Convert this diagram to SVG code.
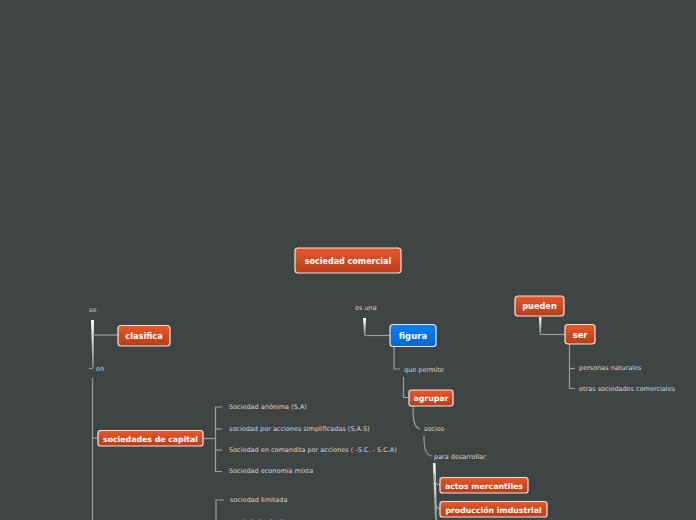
<svg xmlns="http://www.w3.org/2000/svg" width="696" height="520" viewBox="0 0 696 520">
<defs>
<linearGradient id="og" x1="0" y1="0" x2="0" y2="1"><stop offset="0" stop-color="#e8582a"/><stop offset="1" stop-color="#b53d1a"/></linearGradient>
<linearGradient id="bg" x1="0" y1="0" x2="0" y2="1"><stop offset="0" stop-color="#0f7ff0"/><stop offset="1" stop-color="#0066d0"/></linearGradient>
<linearGradient id="wv" x1="0" y1="0" x2="0" y2="1"><stop offset="0" stop-color="#ffffff"/><stop offset="1" stop-color="#8a8e8e"/></linearGradient>
<style>
.n rect{stroke:#f2e6e0;stroke-width:1.2}
.o{fill:url(#og)}
.b{fill:url(#bg)}
.nt{font-family:"DejaVu Sans",Verdana,sans-serif;font-weight:bold;fill:#ffffff;text-anchor:middle}
.t{font-family:"DejaVu Sans",Verdana,sans-serif;font-size:6.5px;fill:#d4d6d6}
.c{fill:none;stroke:#9a9e9e;stroke-width:1.2}
.w{fill:url(#wv)}
</style>
</defs>
<rect width="696" height="520" fill="#3f4444"/>
<g id="connectors">
<polygon class="w" points="91,320 94,320 93.6,368 92.4,368"/>
<path class="c" d="M93,335 H118"/>
<path class="c" d="M92.5,368.5 H89"/>
<path class="c" d="M92.5,378 V520"/>
<path class="c" d="M92.5,438 H98"/>
<polygon class="w" points="363,318 366,318 365.5,335 364,335"/>
<path class="c" d="M364.5,335.5 H390"/>
<path class="c" d="M394,347 V369 H400"/>
<path class="c" d="M403.5,377 V397.5 H409"/>
<path class="c" d="M413,406 C413,420 414,427 420,429"/>
<path class="c" d="M424,436 C424,450 426,455 432,456"/>
<polygon class="w" points="433,463 435.5,463 437,520 435,520"/>
<path class="c" d="M434,474 C434,480 436,485 440,485"/>
<path class="c" d="M435,498 C435,504 437,509 440,509"/>
<polygon class="w" points="539,317 541.5,317 541,334 539.5,334"/>
<path class="c" d="M540,334.5 H565"/>
<path class="c" d="M569.5,344 V388.5 H575"/>
<path class="c" d="M569.5,368.5 H575"/>
<path class="c" d="M203,438.5 H215.5"/>
<path class="c" d="M222,407 H215.5 V471.5 H222"/>
<path class="c" d="M215.5,429 H222"/>
<path class="c" d="M215.5,450 H222"/>
<path class="c" d="M224,500 H216 V520"/>
</g>
<g id="n-sociedad-comercial" class="n"><rect class="o" x="295" y="248" width="106" height="25" rx="3"/><text class="nt" x="348" y="264" font-size="8">sociedad comercial</text></g>
<g id="n-clasifica" class="n"><rect class="o" x="118" y="325.5" width="52" height="20.5" rx="3"/><text class="nt" x="144" y="339" font-size="8.2">clasifica</text></g>
<g id="n-figura" class="n"><rect class="b" x="390" y="324.5" width="46" height="22" rx="3"/><text class="nt" x="413" y="339" font-size="8.5">figura</text></g>
<g id="n-pueden" class="n"><rect class="o" x="515" y="296" width="49" height="20" rx="3"/><text class="nt" x="539.5" y="309" font-size="8.2">pueden</text></g>
<g id="n-ser" class="n"><rect class="o" x="565" y="324.5" width="30" height="19.5" rx="3"/><text class="nt" x="580" y="337.5" font-size="8.2">ser</text></g>
<g id="n-agrupar" class="n"><rect class="o" x="409" y="390" width="44" height="16" rx="2.5"/><text class="nt" x="431" y="401" font-size="7.8">agrupar</text></g>
<g id="n-sociedades-capital" class="n"><rect class="o" x="98" y="430.5" width="105" height="15.5" rx="2.5"/><text class="nt" x="150.5" y="441.5" font-size="7.8">sociedades de capital</text></g>
<g id="n-actos" class="n"><rect class="o" x="440" y="477.5" width="88" height="15.5" rx="2.5"/><text class="nt" x="484" y="488.5" font-size="7.8">actos mercantiles</text></g>
<g id="n-produccion" class="n"><rect class="o" x="440" y="501.5" width="107" height="15.5" rx="2.5"/><text class="nt" x="493.5" y="512.5" font-size="7.8">producción imdustrial</text></g>
<g id="labels">
<text class="t" x="89" y="311.5" font-size="5.5">se</text>
<text class="t" x="96" y="371">en</text>
<text class="t" x="355" y="310" font-size="5.5">es una</text>
<text class="t" x="404" y="372">que permite</text>
<text class="t" x="424" y="431">socios</text>
<text class="t" x="434" y="459">para desarrollar</text>
<text class="t" x="579" y="370">personas naturales</text>
<text class="t" x="579" y="391">otras sociedades comerciales</text>
<text class="t" x="229" y="409">Sociedad anónima (S.A)</text>
<text class="t" x="229" y="431">sociedad por acciones simplificadas (S.A.S)</text>
<text class="t" x="229" y="452">Sociedad en comandita por acciones ( -S.C. - S.C.A)</text>
<text class="t" x="229" y="473">Sociedad economía mixta</text>
<text class="t" x="230" y="502">sociedad limitada</text>
<text class="t" x="232" y="524">sociedad colectiva</text>
</g>
</svg>
